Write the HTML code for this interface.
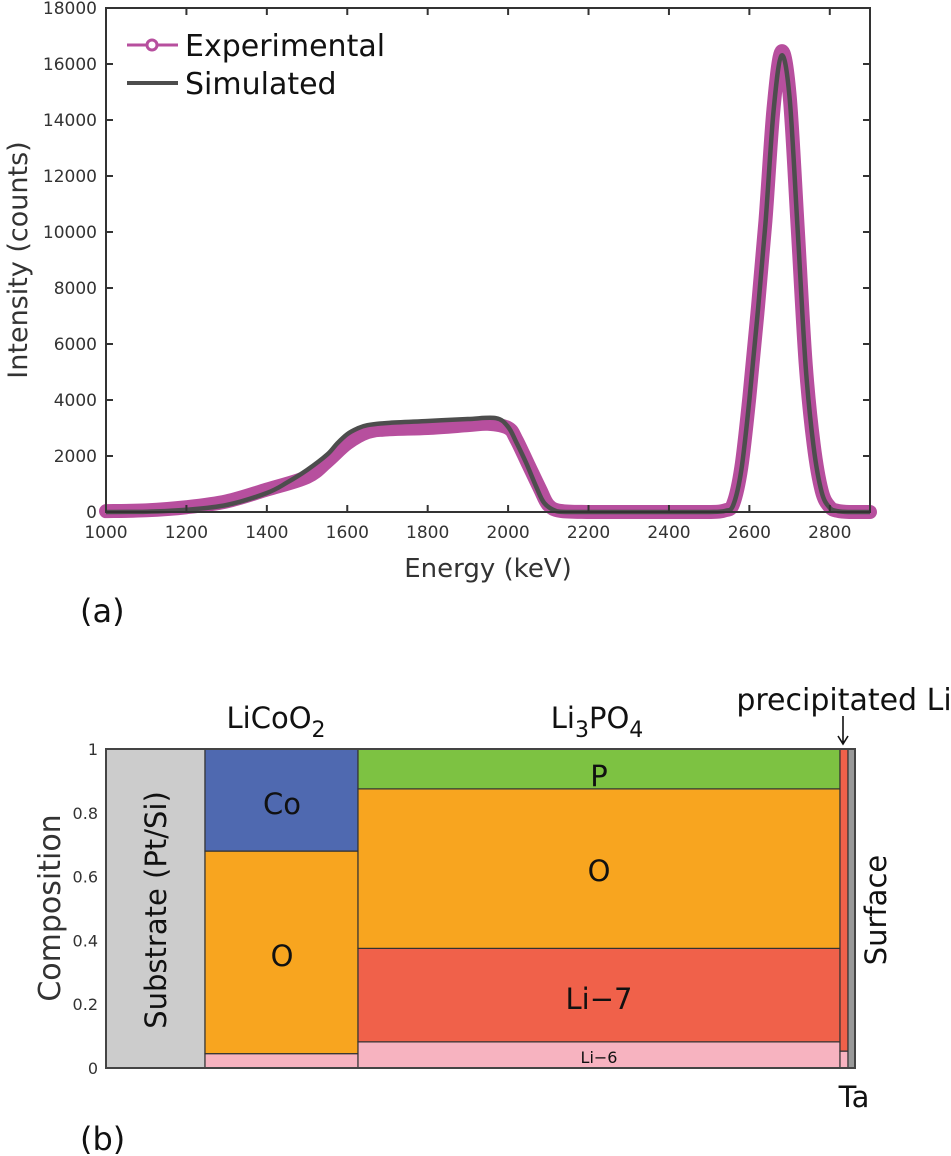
<!DOCTYPE html>
<html><head><meta charset="utf-8"><style>
body{margin:0;background:#fff;}
svg{display:block;font-family:"DejaVu Sans","Liberation Sans",sans-serif;}
</style></head><body>
<svg id="fig" width="951" height="1156" viewBox="0 0 951 1156">
<g id="pa"></g>
<g id="pb"></g>
</svg>
<script>
const NS="http://www.w3.org/2000/svg";
// ---- Panel (a) data ----
const simEnergy=[1000,1100,1200,1300,1400,1450,1500,1550,1575,1600,1625,1650,1700,1800,1900,1970,2000,2020,2045,2070,2090,2120,2150,2200,2300,2400,2500,2540,2560,2580,2600,2620,2640,2660,2680,2700,2720,2740,2760,2780,2800,2820,2850,2900];
const simCounts=[0,10,80,250,680,1050,1500,2050,2450,2780,2980,3100,3180,3250,3320,3350,3040,2500,1750,900,320,30,0,0,0,0,0,40,250,1500,4000,7000,10300,14300,16300,14800,10100,5200,2300,700,150,30,0,0];
const expEnergy=[1000,1100,1200,1300,1400,1500,1550,1600,1650,1700,1800,1900,1950,2000,2020,2050,2080,2100,2130,2200,2300,2400,2500,2540,2560,2580,2600,2620,2640,2660,2680,2700,2720,2740,2760,2780,2800,2820,2850,2900];
const expCounts=[30,60,170,380,800,1250,1800,2450,2850,2950,3000,3100,3150,3000,2600,1700,800,250,40,0,0,0,0,60,300,1600,4100,7100,10400,14400,16450,14900,10200,5300,2400,750,180,40,0,0];
const xTicks=[1000,1200,1400,1600,1800,2000,2200,2400,2600,2800];
const yTicks=[0,2000,4000,6000,8000,10000,12000,14000,16000,18000];
// ---- Panel (b) data ----
const layerNames=["substrate","licoo2","li3po4","precipitated-li","ta-surface"];
const layerBounds=[0,1,2,5.15,5.2,5.25]; // thickness units
const licoo2Names=["Li-6","O","Co"];
const licoo2Fracs=[0.045,0.635,0.32];
const li3po4Names=["Li-6","Li-7","O","P"];
const li3po4Fracs=[0.082,0.293,0.5,0.125];
const precipNames=["Ta","Li"];
const precipFracs=[0.053,0.947];
const compTicks=[0,0.2,0.4,0.6,0.8,1];

function el(tag,attrs,parent,text){const e=document.createElementNS(NS,tag);for(const k in attrs)e.setAttribute(k,attrs[k]);if(text!==undefined)e.textContent=text;parent.appendChild(e);return e;}

// Panel (a)
const pa=document.getElementById('pa');
const AX={l:106,r:870,t:8,b:512};
const xs=e=>AX.l+(e-1000)/1900*(AX.r-AX.l);
const ys=v=>AX.b-v/18000*(AX.b-AX.t);
function smoothPath(X,Y){const p=X.map((x,i)=>[xs(x),ys(Y[i])]);let d="M"+p[0][0]+","+p[0][1];
for(let i=0;i<p.length-1;i++){const p0=p[i-1]||p[i],p1=p[i],p2=p[i+1],p3=p[i+2]||p2;
const c1=[p1[0]+(p2[0]-p0[0])/6,p1[1]+(p2[1]-p0[1])/6],c2=[p2[0]-(p3[0]-p1[0])/6,p2[1]-(p3[1]-p1[1])/6];
d+=` C${c1[0]},${Math.min(AX.b,c1[1])} ${c2[0]},${Math.min(AX.b,c2[1])} ${p2[0]},${p2[1]}`;}return d;}
let e;
e=el('path',{d:smoothPath(expEnergy,expCounts),fill:'none',stroke:'#b74f9e','stroke-width':14,'stroke-linejoin':'round','stroke-linecap':'round'},pa);

e=el('path',{d:smoothPath(simEnergy,simCounts),fill:'none',stroke:'#4d4d4d','stroke-width':4.5,'stroke-linejoin':'round'},pa);

e=el('rect',{x:AX.l,y:AX.t,width:AX.r-AX.l,height:AX.b-AX.t,fill:'none',stroke:'#333','stroke-width':2},pa);

xTicks.forEach(t=>{const x=xs(t);
el('line',{x1:x,x2:x,y1:AX.b,y2:AX.b-7,stroke:'#333','stroke-width':2},pa);
el('line',{x1:x,x2:x,y1:AX.t,y2:AX.t+7,stroke:'#333','stroke-width':2},pa);
const tx=el('text',{x:x,y:AX.b+26,'text-anchor':'middle','font-size':17,fill:'#333'},pa,t);
});
yTicks.forEach(t=>{const y=ys(t);
el('line',{x1:AX.l,x2:AX.l+7,y1:y,y2:y,stroke:'#333','stroke-width':2},pa);
el('line',{x1:AX.r,x2:AX.r-7,y1:y,y2:y,stroke:'#333','stroke-width':2},pa);
const tx=el('text',{x:AX.l-9,y:y+6,'text-anchor':'end','font-size':17,fill:'#333'},pa,t);
});
e=el('text',{x:488,y:577,'text-anchor':'middle','font-size':26,fill:'#333'},pa,'Energy (keV)');

e=el('text',{x:0,y:0,'text-anchor':'middle','font-size':27,fill:'#333',transform:'translate(27,260) rotate(-90)'},pa,'Intensity (counts)');

e=el('text',{x:80,y:622,'font-size':32,fill:'#111'},pa,'(a)');

// legend
const lg=el('g',{},pa);
el('line',{x1:127,x2:178,y1:45,y2:45,stroke:'#b74f9e','stroke-width':3},lg);
el('circle',{cx:152,cy:45,r:5,fill:'#fff',stroke:'#b74f9e','stroke-width':3},lg);
e=el('text',{x:185,y:56,'font-size':30,fill:'#111'},lg,'Experimental');

el('line',{x1:127,x2:178,y1:83,y2:83,stroke:'#4d4d4d','stroke-width':4},lg);
e=el('text',{x:185,y:94,'font-size':30,fill:'#111'},lg,'Simulated');


// Panel (b)
const pb=document.getElementById('pb');
const BX={l:106,r:855,t:749,b:1068};
const px=u=>{const seg=[[0,1,106,205],[1,2,205,358],[2,5.15,358,840],[5.15,5.2,840,848],[5.2,5.25,848,855]];for(const s of seg)if(u<=s[1]+1e-9)return s[2]+(u-s[0])/(s[1]-s[0])*(s[3]-s[2]);return 855;};
const py=v=>BX.b-v*(BX.b-BX.t);
const colors={"Co":"#4f69b0","O":"#f8a51f","Li-6":"#f7b3c0","Li-7":"#f0614a","P":"#7dc242","Li":"#f0614a","Ta":"#f7b3c0"};
function stack(x0,x1,names,fracs){let acc=0;names.forEach((n,i)=>{const r=el('rect',{x:px(x0),y:py(acc+fracs[i]),width:px(x1)-px(x0),height:py(acc)-py(acc+fracs[i]),fill:colors[n],stroke:'#333','stroke-width':1.2},pb);
acc+=fracs[i];});}
e=el('rect',{x:px(layerBounds[0]),y:py(1),width:px(layerBounds[1])-px(layerBounds[0]),height:py(0)-py(1),fill:'#cccccc',stroke:'#333','stroke-width':1.2},pb);

stack(layerBounds[1],layerBounds[2],licoo2Names,licoo2Fracs);
stack(layerBounds[2],layerBounds[3],li3po4Names,li3po4Fracs);
stack(layerBounds[3],layerBounds[4],precipNames,precipFracs);
e=el('rect',{x:px(layerBounds[4]),y:py(1),width:px(layerBounds[5])-px(layerBounds[4]),height:py(0)-py(1),fill:'#999',stroke:'#333','stroke-width':1.2},pb);

el('rect',{x:BX.l,y:BX.t,width:BX.r-BX.l,height:BX.b-BX.t,fill:'none',stroke:'#444','stroke-width':2},pb);
compTicks.forEach(t=>{const tx=el('text',{x:98,y:py(t)+6,'text-anchor':'end','font-size':16,fill:'#333'},pb,t);
});
function lab(x,y,s,name,fs,rot){const t=el('text',{x:0,y:0,'text-anchor':'middle','font-size':fs||29,fill:'#111',transform:`translate(${x},${y})`+(rot?' rotate(-90)':'')},pb,s);return t;}
lab(60,908,'Composition','y-axis-title',30,true).setAttribute('fill','#333');
lab(166,910,'Substrate (Pt/Si)','substrate-label',29,true);
lab(886,910,'Surface','surface-label',29,true);
lab(282,814,'Co','co-label');
lab(282,966,'O','o-label-licoo2');
lab(599,786,'P','p-label');
lab(599,881,'O','o-label-li3po4');
lab(599,1009,'Li−7','li7-label');
lab(599,1063,'Li−6','li6-label',16);
const t1=lab(276,728,'','licoo2-title');t1.innerHTML='LiCoO<tspan font-size="22" dy="9">2</tspan>';
const t2=lab(597,728,'','li3po4-title');t2.innerHTML='Li<tspan font-size="22" dy="9">3</tspan><tspan dy="-9">PO</tspan><tspan font-size="22" dy="9">4</tspan>';
lab(844,710,'precipitated Li','precipitated-li-label',30);
lab(854,1107,'Ta','ta-label');
e=el('path',{d:'M843,716 L843,743 M838,736 L843,744 L848,736',stroke:'#111','stroke-width':1.6,fill:'none'},pb);

e=el('text',{x:80,y:1150,'font-size':32,fill:'#111'},pb,'(b)');

</script>
</body></html>
